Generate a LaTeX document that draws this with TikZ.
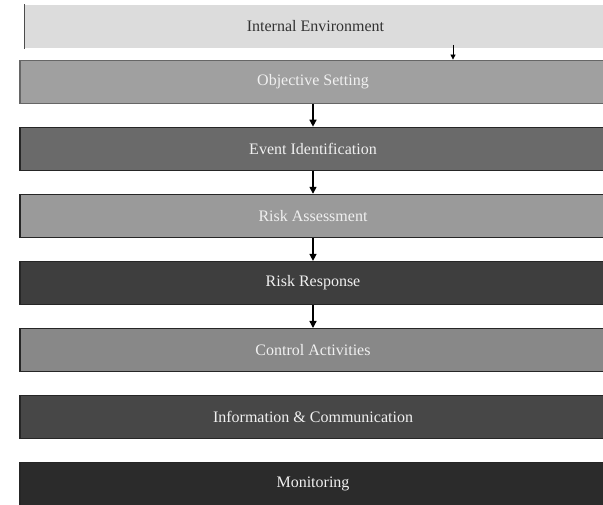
\documentclass[tikz,border=0pt]{standalone}
\usepackage{fontspec}
\setmainfont{Liberation Serif}
\usetikzlibrary{positioning, arrows.meta}

\definecolor{ieFill}{HTML}{DCDCDC}
\definecolor{osFill}{HTML}{A0A0A0}
\definecolor{eiFill}{HTML}{6A6A6A}
\definecolor{raFill}{HTML}{9A9A9A}
\definecolor{rrFill}{HTML}{3E3E3E}
\definecolor{caFill}{HTML}{888888}
\definecolor{icFill}{HTML}{474747}
\definecolor{moFill}{HTML}{2B2B2B}

\tikzset{
	layer/.style={minimum width=586pt, minimum height=43pt, inner sep=0pt,
		draw=black!85, line width=1.2pt, text=white!94!black,
		font=\fontsize{16}{19}\selectfont},
	flow/.style={line width=1.4pt, -{Triangle[length=7pt, width=7pt]}}
}

\begin{document}
\begin{tikzpicture}[x=1pt, y=1pt, node distance=22.9pt]
	\useasboundingbox (0,0) rectangle (603,505);
	\clip (0,0) rectangle (603,505);
	\node[layer, draw=none, fill=ieFill, text=black!80, minimum width=581pt] (ie) at (315.5,478.5) {Internal Environment};
	\draw[black!70, line width=1.2pt] (ie.south west) -- (ie.north west);
	\node[layer, fill=osFill, draw=black!60, below=11pt of ie, xshift=-2.5pt] (os) {Objective Setting};
	\node[layer, fill=eiFill, below=of os] (ei) {Event Identification};
	\node[layer, fill=raFill, below=of ei] (ra) {Risk Assessment};
	\node[layer, fill=rrFill, below=of ra] (rr) {Risk Response};
	\node[layer, fill=caFill, below=of rr] (ca) {Control Activities};
	\node[layer, fill=icFill, below=of ca] (ic) {Information \& Communication};
	\node[layer, fill=moFill, below=of ic] (mo) {Monitoring};
	% arrows
	\coordinate (iearr) at (453,460);
	\draw[line width=0.8pt, -{Triangle[length=5pt, width=5pt]}] (iearr) -- (iearr |- os.north);
	\draw[flow] (os.south) -- (ei.north);
	\draw[flow] (ei.south) -- (ra.north);
	\draw[flow] (ra.south) -- (rr.north);
	\draw[flow] (rr.south) -- (ca.north);
\end{tikzpicture}
\end{document}
